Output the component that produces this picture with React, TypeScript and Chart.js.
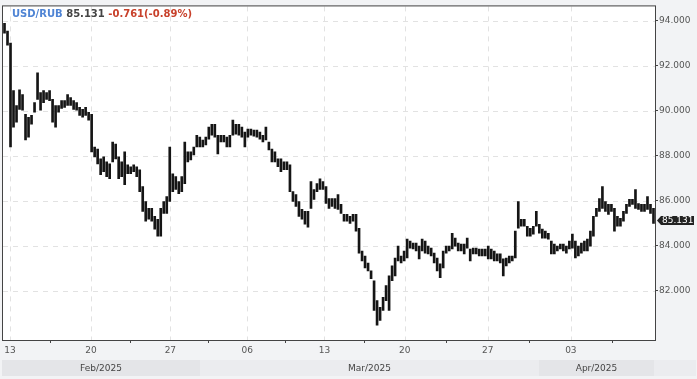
import React, { useEffect, useRef } from "react";
import { Chart, registerables } from "chart.js";

Chart.register(...registerables);

const SYMBOL = "USD/RUB";
const LAST = 85.131;
const CHANGE = -0.761;
const CHANGE_PCT = -0.89;

const HIGH = [
  93.88, 93.53, 93.0, 90.89, 90.23, 90.93, 90.72, 89.84, 89.71, 89.79,
  90.36, 91.68, 90.8, 90.89, 90.8, 90.89, 90.5, 90.23, 90.23, 90.45,
  90.45, 90.72, 90.58, 90.45, 90.36, 90.15, 90.06, 90.15, 89.93, 89.84,
  88.39, 88.3, 87.86, 87.95, 87.73, 87.64, 88.61, 88.52, 87.95, 87.73,
  88.17, 87.6, 87.51, 87.6, 87.51, 87.38, 86.63, 85.97, 85.66, 85.66,
  85.31, 85.18, 85.66, 85.97, 86.19, 88.39, 87.2, 87.07, 86.85, 87.07,
  88.61, 88.17, 88.17, 88.39, 88.91, 88.83, 88.7, 88.83, 89.27, 89.4,
  89.4, 88.91, 88.91, 88.91, 88.83, 88.91, 89.58, 89.4, 89.4, 89.27,
  89.05, 89.18, 89.18, 89.14, 89.14, 89.05, 88.91, 89.27, 88.61, 88.3,
  88.17, 87.86, 87.86, 87.73, 87.73, 87.6, 86.41, 86.28, 85.97, 85.62,
  85.53, 85.53, 86.85, 86.5, 86.76, 86.98, 86.85, 86.63, 86.1, 86.1,
  86.1, 86.28, 85.84, 85.4, 85.4, 85.31, 85.4, 85.4, 84.78, 83.77,
  83.55, 83.24, 82.89, 82.45, 81.57, 81.27, 81.71, 82.24, 82.67, 83.11,
  83.46, 83.99, 83.55, 83.77, 84.3, 84.21, 84.12, 84.12, 83.99, 84.3,
  84.21, 83.99, 83.9, 83.68, 83.46, 83.2, 83.77, 83.99, 83.99, 84.56,
  84.34, 84.12, 84.08, 84.08, 84.34, 83.86, 83.9, 83.9, 83.86, 83.86,
  83.86, 83.99, 83.86, 83.77, 83.64, 83.64, 83.42, 83.46, 83.55, 83.55,
  84.65, 85.97, 85.18, 85.18, 84.87, 84.78, 84.87, 85.53, 84.96, 84.74,
  84.65, 84.56, 84.21, 84.08, 83.99, 84.08, 84.08, 83.99, 84.21, 84.52,
  84.21, 83.99, 84.12, 84.21, 84.3, 84.65, 85.31, 85.66, 86.1, 86.63,
  85.97, 85.84, 85.84, 85.66, 85.31, 85.22, 85.53, 85.84, 86.06, 86.06,
  86.5, 85.88, 85.84, 85.84, 86.19, 85.84, 85.66,
];

const LOW = [
  93.44, 92.91, 88.39, 89.27, 89.49, 90.06, 90.02, 88.7, 88.83, 89.4,
  89.93, 90.5, 90.02, 90.36, 90.5, 90.45, 89.49, 89.27, 89.93, 90.1,
  90.15, 90.23, 90.23, 90.06, 90.02, 89.79, 89.71, 89.79, 89.58, 88.17,
  87.95, 87.64, 87.16, 87.29, 87.07, 86.98, 87.73, 87.86, 86.98, 87.07,
  86.72, 87.2, 87.2, 87.29, 87.07, 86.41, 85.53, 85.09, 85.18, 85.09,
  84.74, 84.43, 84.43, 85.44, 85.44, 85.97, 86.41, 86.5, 86.32, 86.41,
  86.76, 87.73, 87.82, 88.04, 88.39, 88.39, 88.39, 88.48, 88.74, 88.91,
  88.83, 88.08, 88.61, 88.61, 88.39, 88.39, 88.91, 88.96, 88.91, 88.83,
  88.39, 88.83, 88.91, 88.87, 88.83, 88.74, 88.61, 88.7, 88.26, 87.73,
  87.73, 87.51, 87.29, 87.38, 87.38, 86.41, 85.97, 85.75, 85.31, 85.18,
  84.96, 84.83, 85.66, 86.06, 86.41, 86.5, 86.5, 85.88, 85.66, 85.75,
  85.66, 85.62, 85.44, 85.09, 85.09, 85.0, 85.09, 84.65, 83.68, 83.33,
  83.02, 82.89, 82.54, 81.13, 80.48, 80.69, 81.13, 81.57, 81.13, 82.45,
  82.67, 83.33, 83.24, 83.33, 83.46, 83.9, 83.86, 83.77, 83.42, 83.77,
  83.68, 83.64, 83.55, 83.24, 82.89, 82.59, 83.02, 83.68, 83.77, 83.86,
  83.99, 83.77, 83.77, 83.64, 83.9, 83.33, 83.64, 83.64, 83.55, 83.55,
  83.55, 83.42, 83.42, 83.33, 83.33, 83.24, 82.67, 83.11, 83.24, 83.33,
  83.46, 84.78, 84.87, 84.87, 84.43, 84.43, 84.52, 84.87, 84.56, 84.34,
  84.34, 84.3, 83.64, 83.64, 83.77, 83.86, 83.77, 83.68, 83.86, 83.9,
  83.46, 83.55, 83.68, 83.77, 83.77, 83.99, 84.43, 85.31, 85.53, 85.66,
  85.53, 85.4, 85.53, 84.65, 84.87, 84.87, 85.09, 85.44, 85.75, 85.84,
  85.66, 85.62, 85.53, 85.53, 85.62, 85.44, 85.0,
];

const Y_MIN = 79.82;
const Y_MAX = 94.63;
const Y_TICKS = [82, 84, 86, 88, 90, 92, 94];

const X_TICK_POS = [1.8, 28.8, 55.2, 80.8, 106.5, 133.2, 160.8, 188.5];
const X_TICK_LABELS = ["13", "20", "27", "06", "13", "20", "27", "03"];

const MONTH_LABELS = ["Feb/2025", "Mar/2025", "Apr/2025", ""];
const MONTH_EDGES = [-0.83, 65.2, 177.8, 216.2, 230.2];

const FONT = '"DejaVu Sans", Verdana, sans-serif';

export default function App() {
  const ref = useRef<HTMLCanvasElement | null>(null);

  useEffect(() => {
    const canvas = ref.current;
    if (!canvas) return;

    const decor = {
      id: "decor",
      beforeDraw(chart: any) {
        const { ctx, chartArea: a } = chart;
        ctx.save();
        ctx.fillStyle = "#f2f3f5";
        ctx.fillRect(0, 0, chart.width, chart.height);
        ctx.fillStyle = "#ffffff";
        ctx.fillRect(a.left, a.top, a.right - a.left, a.bottom - a.top);
        // month bands
        const xs = chart.scales.x;
        for (let i = 0; i < MONTH_LABELS.length; i++) {
          const x0 = Math.round(xs.getPixelForValue(MONTH_EDGES[i]));
          const x1 = Math.round(xs.getPixelForValue(MONTH_EDGES[i + 1]));
          ctx.fillStyle = i % 2 === 0 ? "#e4e5e8" : "#ebecef";
          ctx.fillRect(x0, 360, x1 - x0, 16);
          if (MONTH_LABELS[i]) {
            ctx.fillStyle = "#444";
            ctx.font = `9px ${FONT}`;
            ctx.textAlign = "center";
            ctx.textBaseline = "middle";
            ctx.fillText(MONTH_LABELS[i], (x0 + x1) / 2, 368.5);
          }
        }
        ctx.restore();
      },
      beforeDatasetsDraw(chart: any) {
        const { ctx, chartArea: a } = chart;
        const ys = chart.scales.y;
        const xs = chart.scales.x;
        ctx.save();
        ctx.strokeStyle = "#e2e2e2";
        ctx.lineWidth = 1;
        ctx.setLineDash([5, 5]);
        Y_TICKS.forEach((v) => {
          const y = Math.round(ys.getPixelForValue(v)) + 0.5;
          ctx.beginPath();
          ctx.moveTo(a.left, y);
          ctx.lineTo(a.right, y);
          ctx.stroke();
        });
        X_TICK_POS.forEach((v) => {
          const x = Math.round(xs.getPixelForValue(v)) + 0.5;
          ctx.beginPath();
          ctx.moveTo(x, a.top);
          ctx.lineTo(x, a.bottom);
          ctx.stroke();
        });
        ctx.restore();
      },
      afterDraw(chart: any) {
        const { ctx, chartArea: a } = chart;
        const ys = chart.scales.y;
        ctx.save();
        ctx.strokeStyle = "#444";
        ctx.lineWidth = 1;
        ctx.strokeRect(a.left - 0.5, a.top - 0.5, a.right - a.left + 1, a.bottom - a.top + 1);

        // title
        ctx.font = `bold 10px ${FONT}`;
        ctx.textAlign = "left";
        ctx.textBaseline = "middle";
        let x = 12;
        const ty = 14;
        const parts: [string, string][] = [
          [SYMBOL, "#4f84d4"],
          [LAST.toFixed(3), "#444444"],
          [`${CHANGE.toFixed(3)}(${CHANGE_PCT.toFixed(2)}%)`, "#c8412b"],
        ];
        parts.forEach(([t, c]) => {
          ctx.fillStyle = c;
          ctx.fillText(t, x, ty);
          x += ctx.measureText(t + " ").width;
        });

        // last price tag
        const py = Math.round(ys.getPixelForValue(LAST)) + 0.5;
        const tx = a.right + 2;
        ctx.fillStyle = "#222";
        ctx.beginPath();
        ctx.moveTo(tx, py);
        ctx.lineTo(tx + 4, py - 4.5);
        ctx.lineTo(694, py - 4.5);
        ctx.lineTo(694, py + 4.5);
        ctx.lineTo(tx + 4, py + 4.5);
        ctx.closePath();
        ctx.fill();
        ctx.fillStyle = "#fff";
        ctx.font = `9px ${FONT}`;
        ctx.textBaseline = "middle";
        ctx.fillText(LAST.toFixed(3), tx + 5, py);
        ctx.restore();
      },
    };

    const chart = new Chart(canvas, {
      type: "bar",
      data: {
        datasets: [
          {
            data: HIGH.map((h, i) => ({ x: i, y: [LOW[i], h] })) as any,
            backgroundColor: "#151515",
            borderWidth: 0,
            barThickness: 2,
            borderSkipped: false,
          } as any,
        ],
      },
      options: {
        animation: false,
        responsive: false,
        maintainAspectRatio: false,
        layout: { padding: { left: 3, top: 3, right: 0, bottom: 0 } },
        plugins: {
          legend: { display: false },
          tooltip: { enabled: false },
        },
        scales: {
          x: {
            type: "linear",
            min: -0.5,
            max: HIGH.length - 0.5,
            offset: false,
            afterBuildTicks: (s: any) => {
              s.ticks = X_TICK_POS.map((v) => ({ value: v }));
            },
            afterFit: (s: any) => {
              s.height = 39;
            },
            ticks: {
              autoSkip: false,
              maxRotation: 0,
              color: "#555",
              font: { family: FONT, size: 9 },
              padding: 2,
              callback: (_v: any, i: number) => X_TICK_LABELS[i],
            },
            grid: {
              drawOnChartArea: false,
              drawTicks: true,
              tickLength: 3,
              tickColor: "#444",
            },
            border: { display: true, color: "#444" },
          },
          y: {
            type: "linear",
            position: "right",
            min: Y_MIN,
            max: Y_MAX,
            afterBuildTicks: (s: any) => {
              s.ticks = Y_TICKS.map((v) => ({ value: v }));
            },
            afterFit: (s: any) => {
              s.width = 42;
            },
            ticks: {
              color: "#555",
              font: { family: FONT, size: 9 },
              padding: 1,
              callback: (v: any) => Number(v).toFixed(3),
            },
            grid: {
              drawOnChartArea: false,
              drawTicks: true,
              tickLength: 3,
              tickColor: "#444",
            },
            border: { display: true, color: "#444" },
          },
        },
      } as any,
      plugins: [decor],
    });

    return () => chart.destroy();
  }, []);

  return (
    <div style={{ position: "fixed", left: 0, top: 0, width: 697, height: 379 }}>
      <canvas ref={ref} width={697} height={379} style={{ display: "block" }} />
    </div>
  );
}
